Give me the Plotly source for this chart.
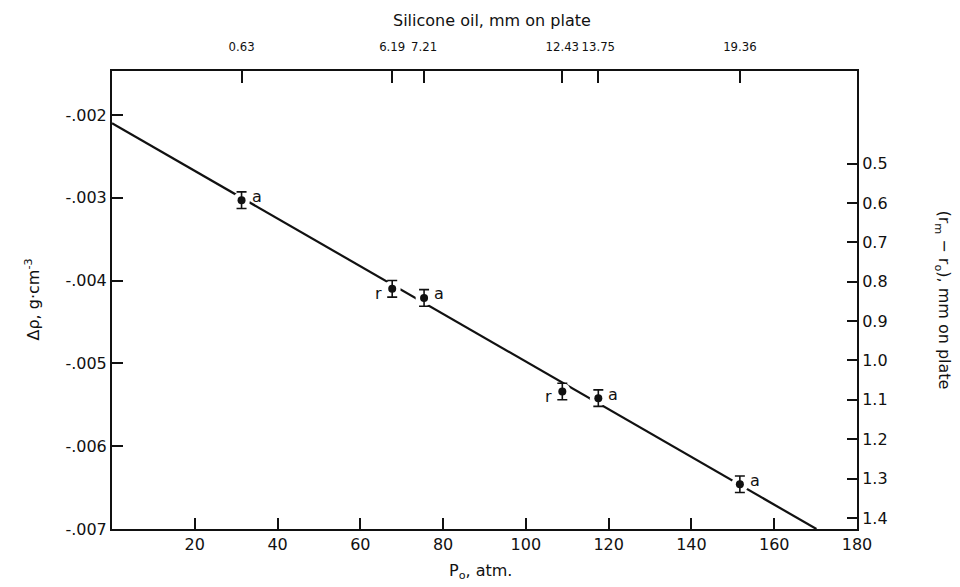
import plotly.graph_objects as go

# ---- data ----
p0 = [31.3, 67.7, 75.4, 108.8, 117.5, 151.7]             # P_o, atm
drho = [-0.00303, -0.00410, -0.00421, -0.00534, -0.00542, -0.00646]  # Δρ, g/cm3
drho_err = [0.0001, 0.0001, 0.0001, 0.0001, 0.0001, 0.0001]
point_tags = ["a", "r", "a", "r", "a", "a"]
oil_labels = ["0.63", "6.19", "7.21", "12.43", "13.75", "19.36"]  # top axis

fit_intercept = -0.0021
fit_end_x = 170.2
fit_end_y = -0.007

x_ticks = [20, 40, 60, 80, 100, 120, 140, 160, 180]
y_ticks = [-0.002, -0.003, -0.004, -0.005, -0.006, -0.007]
y_ticktext = ["-.002", "-.003", "-.004", "-.005", "-.006", "-.007"]
r_ticks = [0.5, 0.6, 0.7, 0.8, 0.9, 1.0, 1.1, 1.2, 1.3, 1.4]
r_ticktext = ["0.5", "0.6", "0.7", "0.8", "0.9", "1.0", "1.1", "1.2", "1.3", "1.4"]

FONT = "DejaVu Sans"
NARROW = "DejaVu Sans Condensed, Liberation Sans Narrow, DejaVu Sans"
ink = "#111111"

fig = go.Figure()

# fitted line
fig.add_trace(go.Scatter(x=[0, fit_end_x], y=[fit_intercept, fit_end_y],
                         mode="lines", line=dict(color=ink, width=2.2),
                         hoverinfo="skip", showlegend=False))
# white masks to break the line near the points
fig.add_trace(go.Scatter(x=p0, y=drho, mode="markers",
                         marker=dict(color="white", size=17, line=dict(width=0)),
                         hoverinfo="skip", showlegend=False))
# data points with error bars
fig.add_trace(go.Scatter(x=p0, y=drho, mode="markers",
                         marker=dict(color=ink, size=8),
                         error_y=dict(type="data", array=drho_err, visible=True,
                                      color=ink, thickness=1.6, width=5),
                         showlegend=False))
# invisible traces to activate the secondary axes
fig.add_trace(go.Scatter(x=[p0[0]], y=[0.6], xaxis="x", yaxis="y2", mode="markers",
                         marker=dict(opacity=0), hoverinfo="skip", showlegend=False))
fig.add_trace(go.Scatter(x=[p0[0]], y=[drho[0]], xaxis="x2", yaxis="y", mode="markers",
                         marker=dict(opacity=0), hoverinfo="skip", showlegend=False))

annotations = []
for x, y, t in zip(p0, drho, point_tags):
    annotations.append(dict(x=x, y=y, xref="x", yref="y", text=t, showarrow=False,
                            xshift=15 if t == "a" else -14,
                            yshift=4 if t == "a" else -5,
                            font=dict(family=FONT, size=16, color=ink)))

annotations += [
    dict(text="Silicone oil, mm on plate", xref="paper", yref="paper", x=0.51, y=1.0,
         yshift=62, showarrow=False, font=dict(family=FONT, size=16, color=ink)),
    dict(text="P<sub>o</sub>, atm.", xref="paper", yref="paper", x=0.495, y=0.0,
         yshift=-55, showarrow=False, font=dict(family=FONT, size=16, color=ink)),
    dict(text="Δρ, g·cm<sup>-3</sup>", xref="paper", yref="paper", x=0.0, y=0.5,
         xshift=-92, showarrow=False, textangle=-90,
         font=dict(family=FONT, size=16, color=ink)),
    dict(text="(r<sub>m</sub> − r<sub>o</sub>), mm on plate", xref="paper", yref="paper",
         x=1.0, y=0.5, xshift=99, showarrow=False, textangle=90,
         font=dict(family=FONT, size=16, color=ink)),
]

axis_common = dict(showline=True, linecolor=ink, linewidth=2, ticks="inside",
                   tickcolor=ink, tickwidth=1.8, showgrid=False, zeroline=False,
                   automargin=False, tickangle=0,
                   tickfont=dict(family=FONT, size=16, color=ink))

fig.update_layout(
    width=960, height=587,
    margin=dict(l=104, r=111, t=63, b=66, autoexpand=False),
    paper_bgcolor="white", plot_bgcolor="white",
    xaxis=dict(range=[0, 180], tickvals=x_ticks, ticklen=11, **axis_common),
    xaxis2=dict(range=[0, 180], overlaying="x", side="top", tickvals=p0,
                ticktext=oil_labels, ticklen=12, **axis_common),
    yaxis=dict(range=[-0.007, -0.00147], tickvals=y_ticks, ticktext=y_ticktext,
               ticklen=11, **axis_common),
    yaxis2=dict(range=[1.428, 0.265], overlaying="y", side="right", tickvals=r_ticks,
                ticktext=r_ticktext, ticklen=10, **axis_common),
    annotations=annotations,
)
fig.update_layout(xaxis2=dict(tickfont=dict(family=NARROW, size=13), ticklabelstandoff=13))

fig.write_html("out.html")
